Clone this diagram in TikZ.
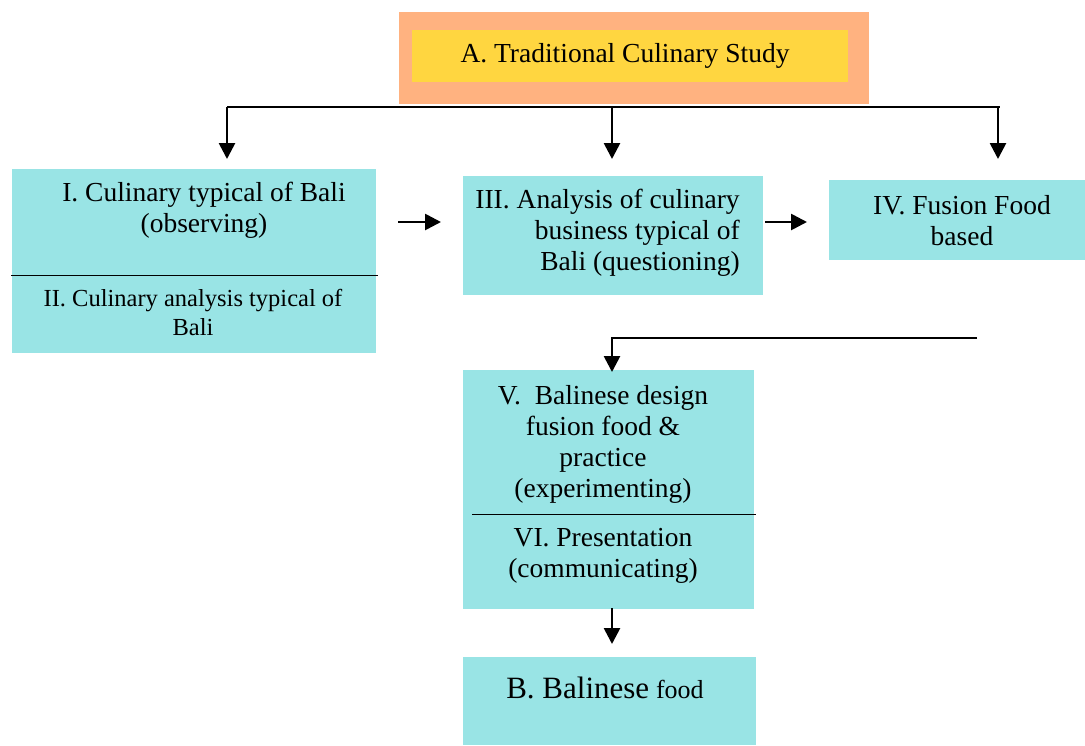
\documentclass[tikz,border=0pt]{standalone}
\usepackage{fontspec}
\setmainfont{Liberation Serif}
\usetikzlibrary{arrows.meta,positioning}
\definecolor{boxcyan}{RGB}{153,228,229}
\definecolor{boxorange}{RGB}{255,178,128}
\definecolor{boxyellow}{RGB}{255,214,64}

\tikzset{
	box/.style={fill=boxcyan, inner sep=0pt, anchor=north west},
	txt/.style={align=center, font=\fontsize{27.5}{31}\selectfont, inner sep=0pt},
	divider/.style={line width=1.5pt},
}

\begin{document}
\begin{tikzpicture}[x=1pt,y=-1pt,line width=2.7pt,>={Triangle[width=16pt,length=16pt]}]
		\useasboundingbox (0,0) rectangle (1085,745);
		% boxes
		\node[box, fill=boxorange, minimum width=470pt, minimum height=92pt] (Aout) at (398,11) {};
		\node[box, fill=boxyellow, minimum width=436pt, minimum height=52pt] (Ain) at (411,29) {};
		\node[box, minimum width=364pt, minimum height=105pt] (I) at (11,168) {};
		\node[box, minimum width=364pt, minimum height=79pt] (II) at (11,273) {};
		\node[box, minimum width=300pt, minimum height=119pt] (III) at (462,175) {};
		\node[box, minimum width=257pt, minimum height=80pt] (IV) at (828,179) {};
		\node[box, minimum width=291pt, minimum height=143pt] (V) at (462,369) {};
		\node[box, minimum width=291pt, minimum height=96pt] (VI) at (462,512) {};
		\node[box, minimum width=293pt, minimum height=88pt] (B) at (462,656) {};
		%
		\draw[divider] (I.south west) -- (I.south east);
		\draw[divider] ([xshift=10pt]V.south west) -- (V.south east);
		%
		% texts
		\node[txt] (tA) at (625,56) {A. Traditional Culinary Study};
		\node[txt] (tI) at (204,210) {I. Culinary typical of Bali\\(observing)};
		\node[txt, font=\fontsize{24.5}{29}\selectfont] (tII) at (193,312) {II. Culinary analysis typical of\\Bali};
		\node[txt, align=right, anchor=east] (tIII) at (741,233) {III. Analysis of culinary\\business typical of\\Bali (questioning)};
		\node[txt] (tIV) at (962,221) {IV. Fusion Food\\based};
		\node[txt] (tV) at (603,444) {V.\ \ Balinese design\\fusion food \&\\practice\\(experimenting)};
		\node[txt] (tVI) at (603,556) {VI. Presentation\\(communicating)};
		\node[txt] (tB) at (605,688) {{\fontsize{31}{31}\selectfont B. Balinese} {\fontsize{26}{31}\selectfont food}};
		%
		% connector points
		\coordinate (splitL) at (227,107);
		\coordinate (splitM) at (612,107);
		\coordinate (splitR) at (1000,107);
		\coordinate (toI) at (227,159);
		\coordinate (toIII) at (612,159);
		\coordinate (toIV) at (998,159);
		\coordinate (fromI) at (398,222);
		\coordinate (atIII) at (441,222);
		\coordinate (fromIII) at (765,222);
		\coordinate (atIV) at (807,222);
		\coordinate (backR) at (977,338);
		\coordinate (backL) at (612,338);
		\coordinate (toV) at (612,372);
		\coordinate (fromVI) at (612,608);
		\coordinate (toB) at (612,644);
		%
		\draw (splitL) -- (splitR);
		\draw[->] (splitL) -- (toI);
		\draw[->] (splitM) -- (toIII);
		\draw[->] ([xshift=-2pt]splitR) -- (toIV);
		% horizontal arrows
		\draw[->] (fromI) -- (atIII);
		\draw[->] (fromIII) -- (atIV);
		% back to the middle column
		\draw[->] (backR) -- (backL) -- (toV);
		\draw[->] (fromVI) -- (toB);
	\end{tikzpicture}
\end{document}
